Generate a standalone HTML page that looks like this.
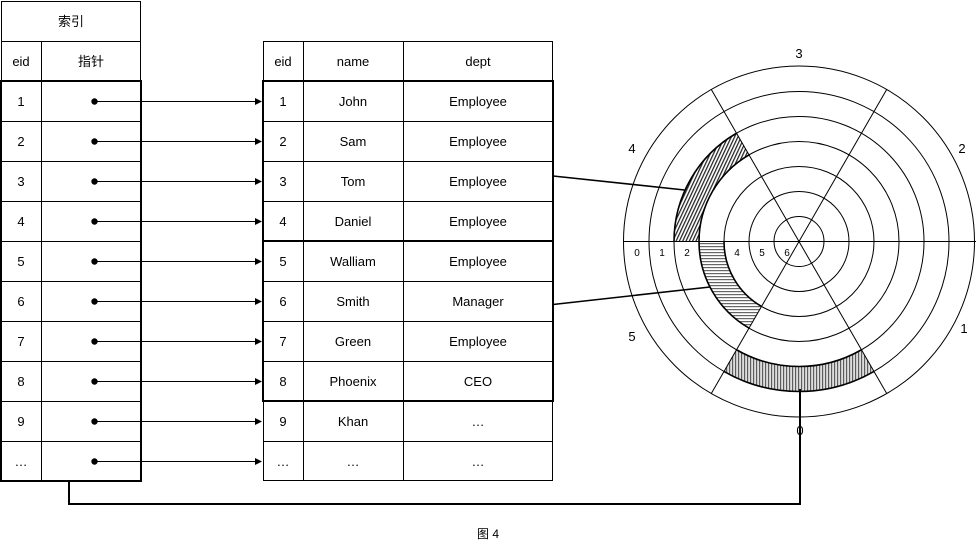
<!DOCTYPE html>
<html><head><meta charset="utf-8">
<style>
html,body{margin:0;padding:0;background:#fff;}
svg{display:block;}
text{font-family:"Liberation Sans","Noto Sans CJK SC",sans-serif;fill:#000;}
</style></head>
<body>
<svg width="976" height="548" viewBox="0 0 976 548" xmlns="http://www.w3.org/2000/svg">
<defs>
  <pattern id="p4" width="3" height="3" patternUnits="userSpaceOnUse" patternTransform="rotate(25)">
    <rect width="3" height="3" fill="#fff"/>
    <line x1="0.6" y1="0" x2="0.6" y2="3" stroke="#222" stroke-width="1.3"/>
  </pattern>
  <pattern id="p5" width="3" height="3" patternUnits="userSpaceOnUse">
    <rect width="3" height="3" fill="#fff"/>
    <line x1="0" y1="0.6" x2="3" y2="0.6" stroke="#666" stroke-width="1.2"/>
  </pattern>
  <pattern id="p0" width="3" height="3" patternUnits="userSpaceOnUse">
    <rect width="3" height="3" fill="#ddd"/>
    <line x1="0.6" y1="0" x2="0.6" y2="3" stroke="#555" stroke-width="1.1"/>
  </pattern>
</defs>

<!-- ===== Index table ===== -->
<g fill="none" stroke="#000" stroke-width="1">
  <rect x="1.5" y="1.5" width="139" height="40"/>
  <line x1="1.5" y1="41.5" x2="1.5" y2="81"/>
  <line x1="140.5" y1="41.5" x2="140.5" y2="81"/>
  <line x1="41.5" y1="41.5" x2="41.5" y2="481"/>
  <line x1="1" y1="121.5" x2="141" y2="121.5"/>
  <line x1="1" y1="161.5" x2="141" y2="161.5"/>
  <line x1="1" y1="201.5" x2="141" y2="201.5"/>
  <line x1="1" y1="241.5" x2="141" y2="241.5"/>
  <line x1="1" y1="281.5" x2="141" y2="281.5"/>
  <line x1="1" y1="321.5" x2="141" y2="321.5"/>
  <line x1="1" y1="361.5" x2="141" y2="361.5"/>
  <line x1="1" y1="401.5" x2="141" y2="401.5"/>
  <line x1="1" y1="441.5" x2="141" y2="441.5"/>
</g>
<rect x="1" y="81" width="140" height="400" fill="none" stroke="#000" stroke-width="2"/>
<g font-size="13" text-anchor="middle">
  <text x="71" y="26">索引</text>
  <text x="21" y="66">eid</text>
  <text x="91" y="66">指针</text>
  <text x="21" y="106">1</text>
  <text x="21" y="146">2</text>
  <text x="21" y="186">3</text>
  <text x="21" y="226">4</text>
  <text x="21" y="266">5</text>
  <text x="21" y="306">6</text>
  <text x="21" y="346">7</text>
  <text x="21" y="386">8</text>
  <text x="21" y="426">9</text>
  <text x="21" y="466">…</text>
</g>

<!-- ===== Data table ===== -->
<g fill="none" stroke="#000" stroke-width="1">
  <rect x="263.5" y="41.5" width="289" height="439"/>
  <line x1="303.5" y1="41.5" x2="303.5" y2="481"/>
  <line x1="403.5" y1="41.5" x2="403.5" y2="481"/>
  <line x1="263" y1="121.5" x2="553" y2="121.5"/>
  <line x1="263" y1="161.5" x2="553" y2="161.5"/>
  <line x1="263" y1="201.5" x2="553" y2="201.5"/>
  <line x1="263" y1="281.5" x2="553" y2="281.5"/>
  <line x1="263" y1="321.5" x2="553" y2="321.5"/>
  <line x1="263" y1="361.5" x2="553" y2="361.5"/>
  <line x1="263" y1="441.5" x2="553" y2="441.5"/>
</g>
<rect x="263" y="81" width="290" height="160" fill="none" stroke="#000" stroke-width="2"/>
<rect x="263" y="241" width="290" height="160" fill="none" stroke="#000" stroke-width="2"/>
<g font-size="13" text-anchor="middle">
  <text x="283" y="66">eid</text><text x="353" y="66">name</text><text x="478" y="66">dept</text>
  <text x="283" y="106">1</text><text x="353" y="106">John</text><text x="478" y="106">Employee</text>
  <text x="283" y="146">2</text><text x="353" y="146">Sam</text><text x="478" y="146">Employee</text>
  <text x="283" y="186">3</text><text x="353" y="186">Tom</text><text x="478" y="186">Employee</text>
  <text x="283" y="226">4</text><text x="353" y="226">Daniel</text><text x="478" y="226">Employee</text>
  <text x="283" y="266">5</text><text x="353" y="266">Walliam</text><text x="478" y="266">Employee</text>
  <text x="283" y="306">6</text><text x="353" y="306">Smith</text><text x="478" y="306">Manager</text>
  <text x="283" y="346">7</text><text x="353" y="346">Green</text><text x="478" y="346">Employee</text>
  <text x="283" y="386">8</text><text x="353" y="386">Phoenix</text><text x="478" y="386">CEO</text>
  <text x="283" y="426">9</text><text x="353" y="426">Khan</text><text x="478" y="426">…</text>
  <text x="283" y="466">…</text><text x="353" y="466">…</text><text x="478" y="466">…</text>
</g>

<!-- ===== Pointer arrows ===== -->
<g stroke="#000" stroke-width="1" fill="#000">
  <g id="arr">
    <circle cx="94.5" cy="101.5" r="3.2" stroke="none"/>
    <line x1="95" y1="101.5" x2="256" y2="101.5"/>
    <path d="M255,98 L262,101.5 L255,105 Z" stroke="none"/>
  </g>
  <use href="#arr" y="40"/>
  <use href="#arr" y="80"/>
  <use href="#arr" y="120"/>
  <use href="#arr" y="160"/>
  <use href="#arr" y="200"/>
  <use href="#arr" y="240"/>
  <use href="#arr" y="280"/>
  <use href="#arr" y="320"/>
  <use href="#arr" y="360"/>
</g>

<!-- ===== Disk ===== -->
<path d="M736.5,133.25 A125,125 0 0 0 674,241.5 L699,241.5 A100,100 0 0 1 749,154.9 Z" fill="url(#p4)" stroke="none"/>
<path d="M699,241.5 A100,100 0 0 0 749,328.1 L761.5,306.45 A75,75 0 0 1 724,241.5 Z" fill="url(#p5)" stroke="none"/>
<path d="M724,371.4 A150,150 0 0 0 874,371.4 L861.5,349.75 A125,125 0 0 1 736.5,349.75 Z" fill="url(#p0)" stroke="none"/>

<g fill="none" stroke="#000" stroke-width="1">
  <circle cx="799" cy="241.5" r="25"/>
  <circle cx="799" cy="241.5" r="50"/>
  <circle cx="799" cy="241.5" r="75"/>
  <circle cx="799" cy="241.5" r="100"/>
  <circle cx="799" cy="241.5" r="125"/>
  <circle cx="799" cy="241.5" r="150"/>
  <circle cx="799" cy="241.5" r="175.5"/>
  <line x1="623.5" y1="241.5" x2="976" y2="241.5"/>
  <line x1="886.7" y1="89.5" x2="711.3" y2="393.5"/>
  <line x1="711.3" y1="89.5" x2="886.7" y2="393.5"/>
</g>
<g fill="none" stroke="#000" stroke-width="1.6">
  <path d="M736.5,133.25 A125,125 0 0 0 674,241.5 M699,241.5 A100,100 0 0 1 749,154.9"/>
  <path d="M699,241.5 A100,100 0 0 0 749,328.1 M761.5,306.45 A75,75 0 0 1 724,241.5"/>
  <path d="M724,371.4 A150,150 0 0 0 874,371.4 M861.5,349.75 A125,125 0 0 1 736.5,349.75"/>
</g>

<!-- track labels -->
<g font-size="10" text-anchor="middle">
  <text x="637" y="256">0</text>
  <text x="662" y="256">1</text>
  <text x="687" y="256">2</text>
  <text x="737" y="256">4</text>
  <text x="762" y="256">5</text>
  <text x="787" y="256">6</text>
</g>
<!-- sector labels -->
<g font-size="13" text-anchor="middle">
  <text x="799" y="58">3</text>
  <text x="962" y="153">2</text>
  <text x="632" y="153">4</text>
  <text x="632" y="341">5</text>
  <text x="964" y="333">1</text>
</g>

<!-- ===== Connectors ===== -->
<g fill="none" stroke="#000" stroke-width="1.6">
  <line x1="553" y1="176" x2="684.5" y2="190"/>
  <line x1="553" y1="304.5" x2="710" y2="287"/>
</g>
<path d="M69,481 V504 H800 V389" fill="none" stroke="#000" stroke-width="2"/>
<text x="800" y="435" font-size="13" text-anchor="middle">0</text>

<!-- caption -->
<text x="488" y="538" font-size="12" text-anchor="middle">图 4</text>
</svg>
</body></html>
